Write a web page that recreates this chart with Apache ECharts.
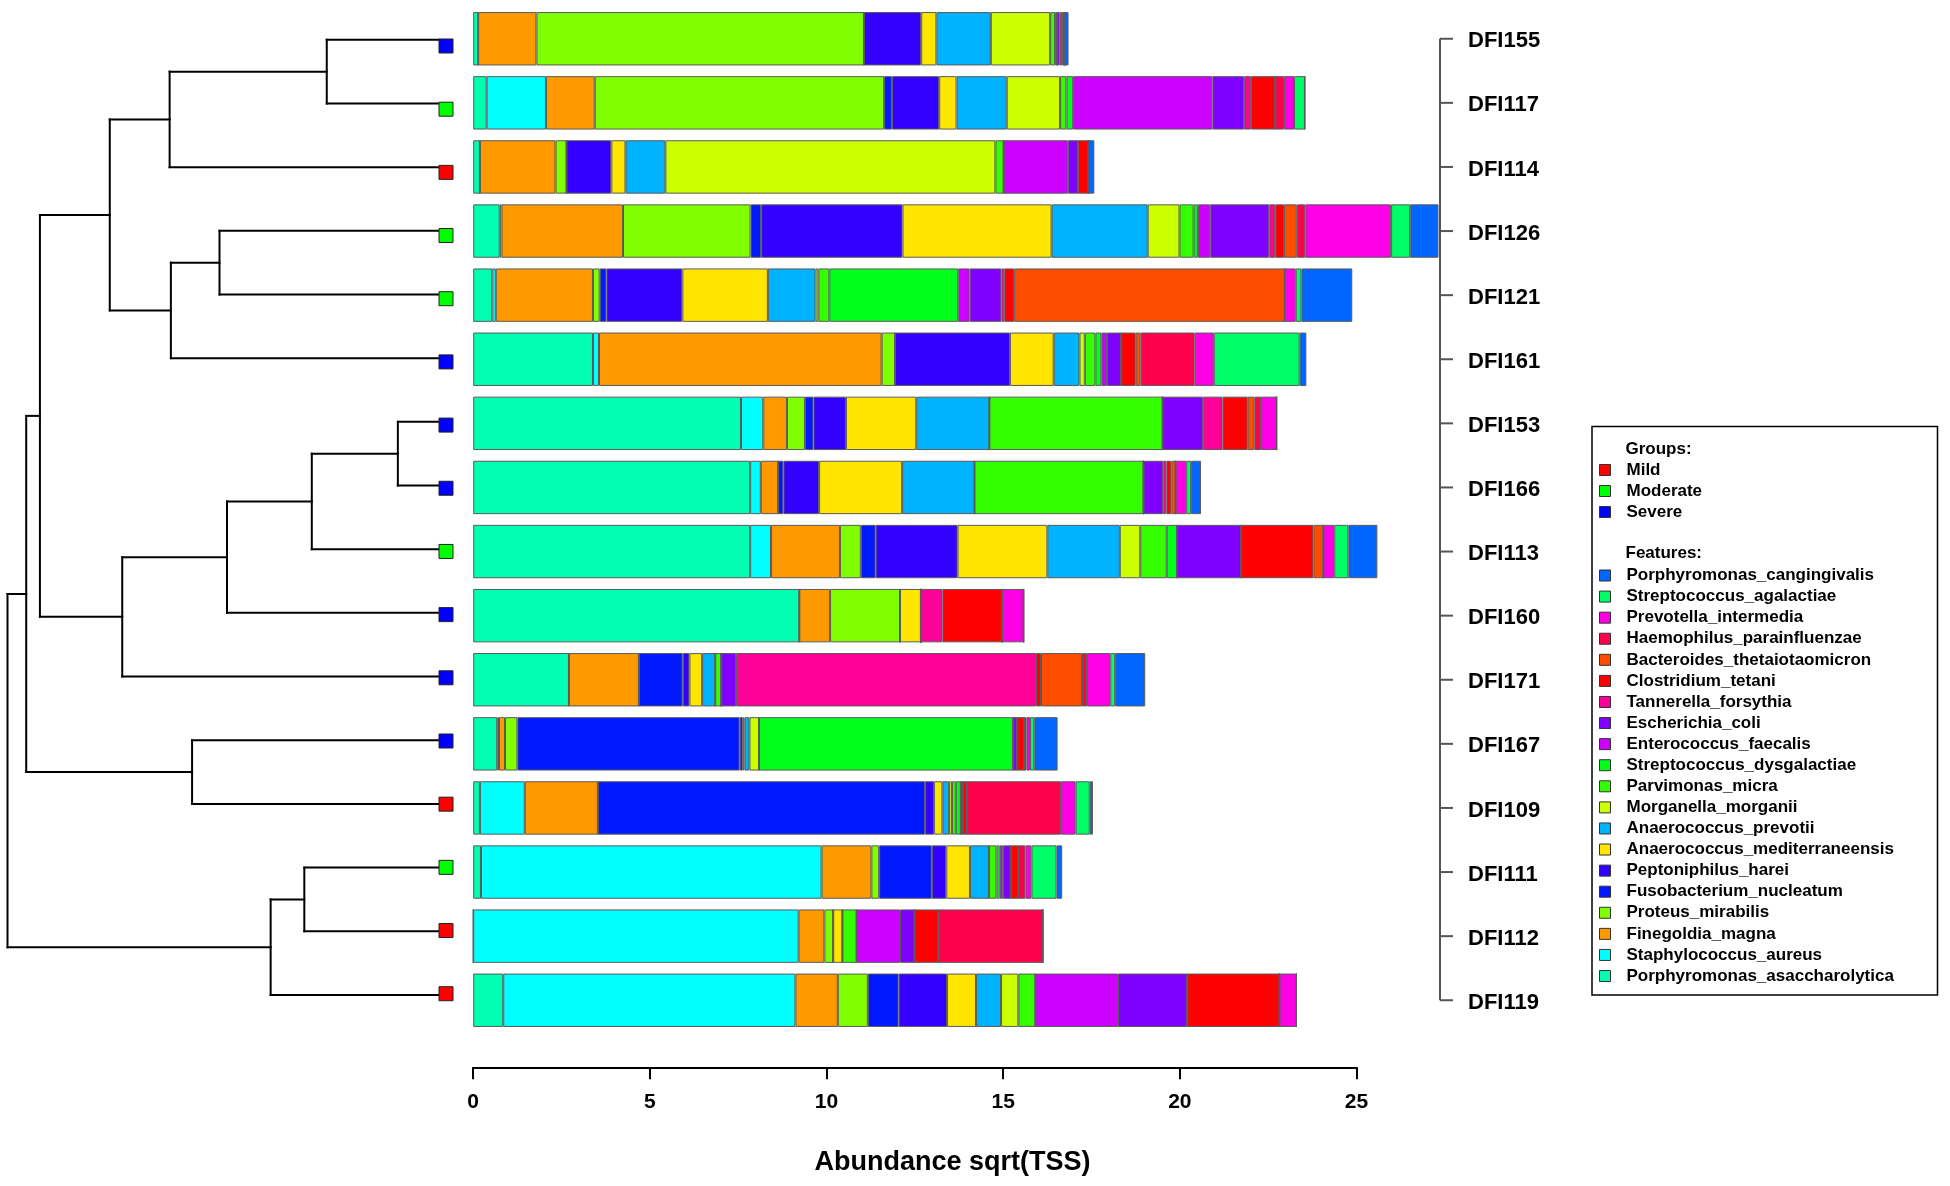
<!DOCTYPE html>
<html>
<head>
<meta charset="utf-8">
<script src="https://cdn.jsdelivr.net/npm/echarts@6/dist/echarts.min.js"></script>
<style>html,body{margin:0;padding:0;background:#fff}#c{width:1950px;height:1186px}</style>
</head>
<body>
<div id="c"></div>
<script>
const categories = ['DFI155','DFI117','DFI114','DFI126','DFI121','DFI161','DFI153','DFI166','DFI113','DFI160','DFI171','DFI167','DFI109','DFI111','DFI112','DFI119'];
const sampleGroups = ['Severe','Moderate','Mild','Moderate','Moderate','Severe','Severe','Severe','Moderate','Severe','Severe','Severe','Mild','Moderate','Mild','Mild'];
const groupNames = ['Mild','Moderate','Severe'];
const groupColors = ['#FF0000','#00FF00','#0000FF'];
const xTicks = [0, 5, 10, 15, 20, 25];

const featureNames = ['Porphyromonas_asaccharolytica','Staphylococcus_aureus','Finegoldia_magna','Proteus_mirabilis','Fusobacterium_nucleatum','Peptoniphilus_harei','Anaerococcus_mediterraneensis','Anaerococcus_prevotii','Morganella_morganii','Parvimonas_micra','Streptococcus_dysgalactiae','Enterococcus_faecalis','Escherichia_coli','Tannerella_forsythia','Clostridium_tetani','Bacteroides_thetaiotaomicron','Haemophilus_parainfluenzae','Prevotella_intermedia','Streptococcus_agalactiae','Porphyromonas_cangingivalis'];
const featureColors = ['#00FFB2','#00FFFF','#FF9900','#80FF00','#0019FF','#3300FF','#FFE500','#00B3FF','#CCFF00','#33FF00','#00FF19','#CC00FF','#7F00FF','#FF0099','#FF0000','#FF4D00','#FF004D','#FF00E6','#00FF66','#0066FF'];

// values per feature, rows in category order
const P_asaccharolytica = [0.14,0.38,0.19,0.75,0.54,3.39,7.58,7.84,7.84,9.23,2.71,0.68,0.19,0.22,0,0.85];
const S_aureus          = [0,1.68,0,0.05,0.10,0.17,0.63,0.30,0.59,0,0,0.05,1.27,9.64,9.21,8.27];
const F_magna           = [1.65,1.38,2.14,3.44,2.75,8.0,0.67,0.49,1.95,0.87,1.98,0.17,2.07,1.41,0.73,1.20];
const P_mirabilis       = [9.27,8.19,0.31,3.61,0.19,0.38,0.51,0,0.59,1.98,0,0.35,0,0.22,0.25,0.85];
const F_nucleatum       = [0,0.22,0,0.30,0.19,0,0.24,0.15,0.42,0,1.24,6.29,9.26,1.49,0,0.87];
const P_harei           = [1.62,1.34,1.27,4.0,2.15,3.25,0.92,1.01,2.32,0,0.19,0.09,0.25,0.41,0,1.37];
const A_mediterraneensis= [0.43,0.49,0.40,4.22,2.42,1.24,1.99,2.35,2.54,0.59,0.36,0.05,0.24,0.67,0.26,0.82];
const A_prevotii        = [1.54,1.42,1.13,2.72,1.35,0.73,2.07,2.05,2.05,0,0.37,0.14,0.19,0.54,0,0.71];
const M_morganii        = [1.68,1.51,9.34,0.9,0.08,0.15,0,0,0.58,0,0,0.27,0.08,0,0,0.49];
const P_micra           = [0.14,0.18,0.23,0.40,0.31,0.30,4.90,4.78,0.75,0,0.17,0,0.11,0.21,0.40,0.48];
const S_dysgalactiae    = [0.05,0.19,0,0.12,3.65,0.17,0,0,0.29,0,0,7.19,0.14,0.09,0,0];
const E_faecalis        = [0,3.94,1.82,0.35,0.32,0.16,0,0,0,0,0,0,0,0.09,1.23,2.34];
const E_coli            = [0.08,0.9,0.28,1.67,0.9,0.40,1.15,0.56,1.81,0,0.42,0.12,0.06,0.22,0.41,1.96];
const T_forsythia       = [0.07,0.19,0,0.17,0.08,0,0.55,0.09,0,0.61,8.49,0,0,0,0,0];
const C_tetani          = [0.04,0.69,0.30,0.25,0.28,0.41,0.71,0.14,2.05,1.69,0.14,0.19,0.12,0.21,0.67,2.61];
const B_thetaiotaomicron= [0,0,0,0.36,7.66,0.14,0.19,0.12,0.28,0,1.16,0,0,0,0,0];
const H_parainfluenzae  = [0.04,0.25,0,0.24,0,1.53,0.19,0,0,0,0.14,0.07,2.66,0.21,2.96,0];
const P_intermedia      = [0,0.28,0,2.43,0.31,0.54,0.44,0.30,0.31,0.61,0.66,0.1,0.41,0.17,0,0.48];
const S_agalactiae      = [0,0.31,0,0.54,0.16,2.43,0,0.14,0.40,0,0.14,0.12,0.40,0.71,0,0];
const P_cangingivalis   = [0.1,0,0.17,0.8,1.44,0.19,0,0.28,0.82,0,0.85,0.66,0.09,0.16,0,0];

const featureValues = [P_asaccharolytica,S_aureus,F_magna,P_mirabilis,F_nucleatum,P_harei,A_mediterraneensis,A_prevotii,M_morganii,P_micra,S_dysgalactiae,E_faecalis,E_coli,T_forsythia,C_tetani,B_thetaiotaomicron,H_parainfluenzae,P_intermedia,S_agalactiae,P_cangingivalis];

// dendrogram merges (R hclust style: negative = leaf index+1, positive = merge number), height
const mergeLeft   = [-1, 1, -4, 3, 2, -7, 6, 7, 8, 5, -12, 10, -14, 13, 12];
const mergeRight  = [-2, -3, -5, -6, 4, -8, -9, -10, -11, 9, -13, 11, -15, -16, 14];
const mergeHeight = [90, 216, 176, 215, 264, 33, 102, 170, 254, 320, 198, 331, 108, 135, 346];

const FONT = "'Liberation Sans', Arial, Helvetica, sans-serif";

// build dendrogram segments
const nodes = [];
function nodeOf(k){ return k < 0 ? {h:0, y:-k-1} : nodes[k-1]; }
const segs = [];
for (let i = 0; i < mergeHeight.length; i++) {
  const a = nodeOf(mergeLeft[i]), b = nodeOf(mergeRight[i]), h = mergeHeight[i];
  segs.push([h, a.y, h, b.y]);
  segs.push([h, a.y, a.h, a.y]);
  segs.push([h, b.y, b.h, b.y]);
  nodes.push({h:h, y:(a.y + b.y) / 2});
}

const series = [];
featureNames.forEach((name, i) => {
  series.push({
    name: name, type: 'bar', stack: 'total', xAxisIndex: 0, yAxisIndex: 0,
    data: featureValues[i], barCategoryGap: '16.7%', clip: false,
    itemStyle: {color: featureColors[i], borderColor: '#5a5a5a', borderWidth: 1},
    emphasis: {disabled: true}, animation: false
  });
});
series.push({
  type: 'custom', xAxisIndex: 1, yAxisIndex: 1, data: segs, silent: true, animation: false, z: 3,
  renderItem: (params, api) => {
    const p1 = api.coord([api.value(0), api.value(1)]);
    const p2 = api.coord([api.value(2), api.value(3)]);
    return {type: 'line', shape: {x1: p1[0], y1: p1[1], x2: p2[0], y2: p2[1]}, style: {stroke: '#000', lineWidth: 2, lineCap: 'square'}};
  }
});
groupNames.forEach((g, gi) => {
  const d = [];
  sampleGroups.forEach((s, i) => { if (s === g) d.push([0, i]); });
  series.push({
    name: g, type: 'scatter', xAxisIndex: 2, yAxisIndex: 2, data: d, clip: false,
    symbol: 'rect', symbolSize: 14, symbolOffset: [7, 0], z: 5, animation: false,
    itemStyle: {color: groupColors[gi], borderColor: '#222', borderWidth: 1, opacity: 1}
  });
});
// right-hand label axis (bracket line + ticks + labels), drawn from category positions
series.push({
  type: 'custom', xAxisIndex: 0, yAxisIndex: 0, data: categories.map((c, i) => [25, i]), silent: true, animation: false, clip: false,
  renderItem: (params, api) => {
    const p = api.coord([25, api.value(1)]);
    const x = p[0] + 83.5;
    const children = [
      {type: 'line', shape: {x1: x, y1: p[1], x2: x + 13, y2: p[1]}, style: {stroke: '#555', lineWidth: 2}},
      {type: 'text', x: x + 28, y: p[1] + 2.5, style: {text: categories[params.dataIndex], font: 'bold 22px ' + FONT, fill: '#000', align: 'left', verticalAlign: 'middle'}}
    ];
    if (params.dataIndex === 0) {
      const b = api.coord([25, categories.length - 1]);
      children.push({type: 'line', shape: {x1: x, y1: p[1], x2: x, y2: b[1]}, style: {stroke: '#555', lineWidth: 2}});
    }
    return {type: 'group', children: children};
  }
});

const legendText = {fontSize: 17, fontWeight: 'bold', color: '#000', fontFamily: FONT};
const option = {
  backgroundColor: '#fff',
  animation: false,
  grid: [
    {left: 473.2, width: 883.3, top: 6.7, height: 1025.6},
    {left: 7.5, width: 431.5, top: 7.96, height: 1018.8},
    {left: 7.5, width: 431.5, top: 14.4, height: 1010.9}
  ],
  xAxis: [
    {type: 'value', gridIndex: 0, min: 0, max: 25, interval: 5, position: 'bottom', offset: 35,
     axisLine: {show: true, lineStyle: {color: '#000', width: 2}},
     axisTick: {show: true, length: 12, lineStyle: {color: '#000', width: 2}, customValues: xTicks},
     axisLabel: {fontSize: 21, fontWeight: 'bold', color: '#000', fontFamily: FONT, margin: 24, customValues: xTicks},
     splitLine: {show: false}},
    {type: 'value', gridIndex: 1, min: 0, max: 346, inverse: true, show: false},
    {type: 'value', gridIndex: 2, min: 0, max: 346, inverse: true, show: false}
  ],
  yAxis: [
    {type: 'category', gridIndex: 0, data: categories, inverse: true, position: 'right',
     axisLine: {show: false}, axisTick: {show: false}, axisLabel: {show: false}},
    {type: 'value', gridIndex: 1, min: -0.5, max: 15.5, inverse: true, show: false},
    {type: 'value', gridIndex: 2, min: -0.5, max: 15.5, inverse: true, show: false}
  ],
  legend: [
    {data: groupNames, orient: 'vertical', left: 1599, top: 461.5, itemWidth: 33, itemHeight: 11, itemGap: 4,
     padding: 0, icon: 'path://M0,0L10,0L10,10L0,10Z', selectedMode: false, textStyle: legendText,
     itemStyle: {borderColor: '#333', borderWidth: 1}},
    {data: featureNames.slice().reverse(), orient: 'vertical', left: 1599, top: 567, itemWidth: 33, itemHeight: 11, itemGap: 4.08,
     padding: 0, icon: 'path://M0,0L10,0L10,10L0,10Z', selectedMode: false, textStyle: legendText,
     itemStyle: {borderColor: '#333', borderWidth: 1}}
  ],
  graphic: [
    {type: 'rect', shape: {x: 1592, y: 426.5, width: 345.5, height: 568.5}, style: {fill: 'none', stroke: '#000', lineWidth: 1.5}, silent: true},
    {type: 'text', x: 1625.5, y: 449, style: {text: 'Groups:', font: 'bold 17px ' + FONT, fill: '#000', verticalAlign: 'middle'}},
    {type: 'text', x: 1625.5, y: 553, style: {text: 'Features:', font: 'bold 17px ' + FONT, fill: '#000', verticalAlign: 'middle'}},
    {type: 'text', x: 952.6, y: 1163, style: {text: 'Abundance sqrt(TSS)', font: 'bold 27px ' + FONT, fill: '#000', align: 'center', verticalAlign: 'middle'}}
  ],
  series: series
};
const chart = echarts.init(document.getElementById('c'));
chart.setOption(option);
</script>
</body>
</html>
